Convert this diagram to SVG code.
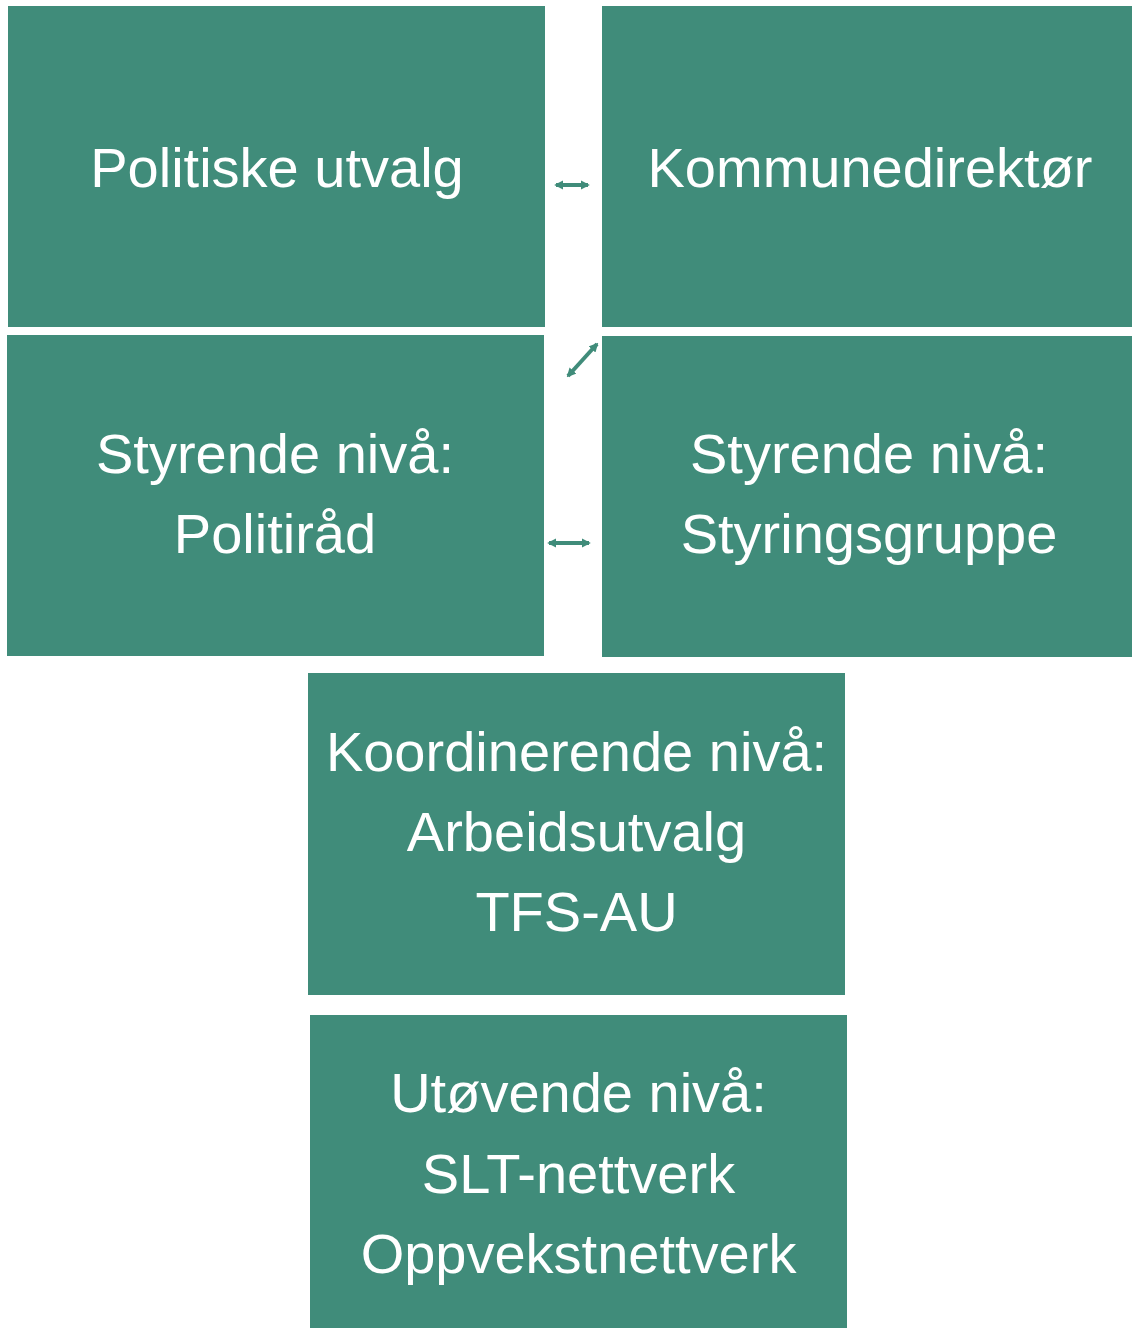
<svg xmlns="http://www.w3.org/2000/svg" width="1132" height="1328" viewBox="0 0 1132 1328">
<defs>
<style>
.box{fill:#408C7A;}
.t{fill:#FFFFFF;font-family:"Liberation Sans",Arial,sans-serif;font-size:56px;text-anchor:middle;}
.c{stroke:#408C7A;stroke-width:4;fill:none;}
</style>
<marker id="ah" viewBox="0 0 10 10" refX="8" refY="5" markerWidth="2.3" markerHeight="2.3" orient="auto-start-reverse" markerUnits="strokeWidth">
<path d="M0,0 L10,5 L0,10 Z" fill="#408C7A"/>
</marker>
</defs>
<rect width="1132" height="1328" fill="#FFFFFF"/>
<g id="node-politiske-utvalg">
<rect class="box" x="8" y="6" width="537" height="321"/>
<text class="t" x="277" y="187">Politiske utvalg</text>
</g>
<g id="node-kommunedirektor">
<rect class="box" x="602" y="6" width="530" height="321"/>
<text class="t" x="870" y="187">Kommunedirektør</text>
</g>
<g id="node-politirad">
<rect class="box" x="7" y="335" width="537" height="321"/>
<text class="t" x="275" y="473">Styrende nivå:</text>
<text class="t" x="275" y="553">Politiråd</text>
</g>
<g id="node-styringsgruppe">
<rect class="box" x="602" y="336" width="530" height="321"/>
<text class="t" x="869" y="473">Styrende nivå:</text>
<text class="t" x="869" y="553">Styringsgruppe</text>
</g>
<g id="node-arbeidsutvalg">
<rect class="box" x="308" y="673" width="537" height="322"/>
<text class="t" x="576.5" y="771">Koordinerende nivå:</text>
<text class="t" x="576.5" y="851">Arbeidsutvalg</text>
<text class="t" x="576.5" y="931">TFS-AU</text>
</g>
<g id="node-utovende">
<rect class="box" x="310" y="1015" width="537" height="313"/>
<text class="t" x="578.5" y="1112">Utøvende nivå:</text>
<text class="t" x="578.5" y="1193">SLT-nettverk</text>
<text class="t" x="578.5" y="1273">Oppvekstnettverk</text>
</g>
<g id="connectors">
<line class="c" x1="556" y1="185" x2="588" y2="185" marker-start="url(#ah)" marker-end="url(#ah)"/>
<line class="c" x1="568" y1="376" x2="597" y2="344" marker-start="url(#ah)" marker-end="url(#ah)"/>
<line class="c" x1="549" y1="543" x2="589" y2="543" marker-start="url(#ah)" marker-end="url(#ah)"/>
<line x1="586" y1="1087" x2="586" y2="1103" stroke="#408C7A" stroke-width="2"/>
</g>
</svg>
